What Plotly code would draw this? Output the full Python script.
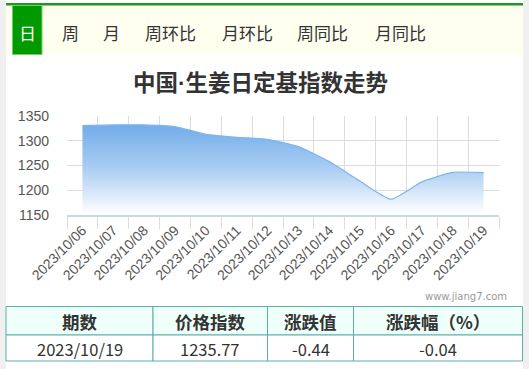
import plotly.graph_objects as go

# ---- data ----
dates = ["2023/10/06", "2023/10/07", "2023/10/08", "2023/10/09", "2023/10/10",
         "2023/10/11", "2023/10/12", "2023/10/13", "2023/10/14", "2023/10/15",
         "2023/10/16", "2023/10/17", "2023/10/18", "2023/10/19"]
index_values = [1330.5, 1332.0, 1332.0, 1328.5, 1313.0, 1307.0, 1303.0,
                1288.0, 1258.0, 1218.0, 1182.0, 1217.0, 1236.21, 1235.77]
y_ticks = [1150, 1200, 1250, 1300, 1350]
tabs = ["日", "周", "月", "周环比", "月环比", "周同比", "月同比"]
title_parts = ["中国", "·", "生姜日定基指数走势"]
table_header = ["期数", "价格指数", "涨跌值", "涨跌幅（%）"]
table_row = ["2023/10/19", "1235.77", "-0.44", "-0.04"]
credit = "www.jiang7.com"

W, H = 529, 369
def px(x):
    return x / W
def py(y):
    return 1 - y / H

FONT = "Noto Sans CJK SC, Microsoft YaHei, sans-serif"
LAT = "Liberation Sans, Arial, sans-serif"

fig = go.Figure()
fig.add_trace(go.Scatter(
    x=dates, y=index_values, mode="lines",
    line=dict(color="#7cb5ec", width=1.2, shape="spline", smoothing=0.5),
    fill="tozeroy",
    fillgradient=dict(type="vertical", start=1152, stop=1335,
                      colorscale=[[0, "rgba(255,255,255,1)"], [0.5, "rgb(170,205,243)"],
                                  [1, "rgb(112,171,234)"]]),
    hoverinfo="skip", showlegend=False,
))

shapes = []
# page side strips
shapes.append(dict(type="rect", xref="paper", yref="paper", x0=0, x1=px(6), y0=0, y1=1,
                   fillcolor="#f0f0f0", line_width=0, layer="below"))
shapes.append(dict(type="rect", xref="paper", yref="paper", x0=px(523), x1=1, y0=0, y1=1,
                   fillcolor="#f0f0f0", line_width=0, layer="below"))
# tab bar background
shapes.append(dict(type="rect", xref="paper", yref="paper", x0=px(6), x1=px(523), y0=py(55), y1=py(5),
                   fillcolor="#fffff0", line_width=0, layer="below"))
# green top line
shapes.append(dict(type="rect", xref="paper", yref="paper", x0=px(6), x1=px(523), y0=py(5.5), y1=py(3),
                   fillcolor="#1a9c1a", line_width=0, layer="below"))
# active tab
shapes.append(dict(type="rect", xref="paper", yref="paper", x0=px(12.5), x1=px(42), y0=py(54.5), y1=py(5.5),
                   fillcolor="#009900", line=dict(color="#6fcf6f", width=1), layer="below"))

annotations = []
tab_x = [27, 70, 111, 170, 247, 323, 400]
for t, x in zip(tabs, tab_x):
    annotations.append(dict(text=t, x=px(x), y=py(32), xref="paper", yref="paper",
                            showarrow=False, xanchor="center", yanchor="middle",
                            font=dict(family=FONT, size=17, color="white" if t == "日" else "#333333")))

title_html = ("<b>%s<span style=\"font-family:Liberation Sans\">%s</span>%s</b>"
              % (title_parts[0], title_parts[1], title_parts[2]))
annotations.append(dict(text=title_html, x=px(260), y=py(81), xref="paper", yref="paper",
                        showarrow=False, xanchor="center", yanchor="middle",
                        font=dict(family=FONT, size=22.5, color="#333333")))
annotations.append(dict(text=credit, x=px(509), y=py(296.5), xref="paper", yref="paper",
                        showarrow=False, xanchor="right", yanchor="middle",
                        font=dict(family="DejaVu Sans, sans-serif", size=10, color="#999999")))

# ---- table (cells built from the header / row lists) ----
tbl_left, tbl_top = 6, 306.5
col_widths = [147, 114.5, 86, 169]
row_heights = [28.5, 26]
border = "#5eaea6"
edges = [tbl_left]
for w in col_widths:
    edges.append(edges[-1] + w)
row_edges = [tbl_top, tbl_top + row_heights[0], tbl_top + row_heights[0] + row_heights[1]]
rows = [table_header, table_row]
for r, row in enumerate(rows):
    for c, val in enumerate(row):
        x0, x1 = edges[c], edges[c + 1]
        y0, y1 = row_edges[r], row_edges[r + 1]
        shapes.append(dict(type="rect", xref="paper", yref="paper",
                           x0=px(x0), x1=px(x1), y0=py(y1), y1=py(y0),
                           fillcolor="#effffa" if r == 0 else "white",
                           line=dict(color=border, width=1), layer="below"))
        annotations.append(dict(text=("<b>%s</b>" % val) if r == 0 else val,
                                x=px((x0 + x1) / 2), y=py((y0 + y1) / 2 + 0.5),
                                xref="paper", yref="paper", showarrow=False,
                                xanchor="center", yanchor="middle",
                                font=dict(family=FONT, size=17.5 if r == 0 else 16.5,
                                          color="#333333")))

fig.update_layout(
    width=W, height=H,
    margin=dict(l=0, r=0, t=0, b=0),
    paper_bgcolor="white", plot_bgcolor="white",
    shapes=shapes, annotations=annotations,
    xaxis=dict(domain=[px(67), px(499)], type="category", range=[-0.5, len(dates) - 0.5],
               tickson="boundaries", ticks="outside", ticklen=12, tickcolor="#dcdcdc", tickwidth=1,
               showgrid=True, gridcolor="#dcdcdc", gridwidth=1,
               showline=True, linecolor="#ccd6eb", linewidth=1.5,
               tickangle=-45, tickfont=dict(family=LAT, size=14, color="#555555"),
               automargin=False, fixedrange=True),
    yaxis=dict(domain=[py(215), py(116)], range=[1150, 1350], tickvals=y_ticks,
               showgrid=True, gridcolor="#dcdcdc", gridwidth=1, zeroline=False,
               ticks="", ticklabelstandoff=17,
               tickfont=dict(family=LAT, size=14, color="#555555"),
               automargin=False, fixedrange=True),
)

fig.write_html("out.html")
